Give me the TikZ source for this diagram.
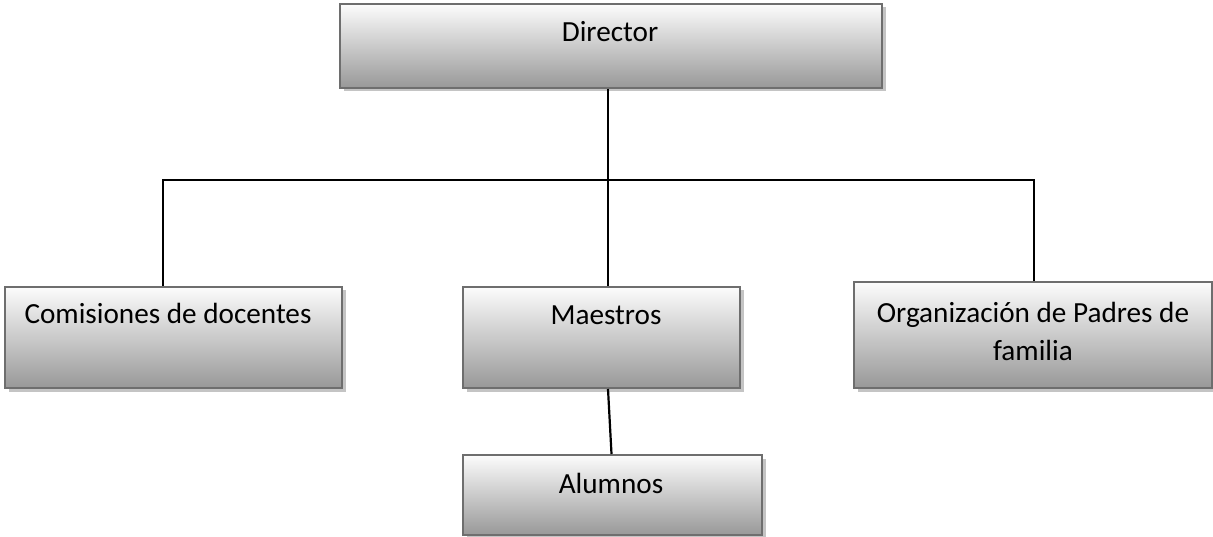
\documentclass[tikz,border=0pt]{standalone}
\usepackage{fontspec}
\setmainfont{Carlito}
\usetikzlibrary{shadows,calc}
\definecolor{boxline}{HTML}{6E6E6E}
\definecolor{boxtop}{HTML}{FCFCFC}
\definecolor{boxbot}{HTML}{989898}
\definecolor{shadowc}{HTML}{C4C4C4}
\tikzset{
  orgbox/.style={draw=boxline, line width=2pt, top color=boxtop, bottom color=boxbot,
    rectangle, inner sep=0pt, anchor=north west,
    drop shadow={shadow xshift=3.5pt, shadow yshift=-3.5pt, fill=shadowc, opacity=1}},
  lbl/.style={font=\fontsize{29.2}{37}\selectfont, anchor=base, inner sep=0pt, align=center},
  conn/.style={draw=black, line width=2.2pt}
}
\begin{document}
\begin{tikzpicture}[x=1pt,y=-1pt]
\useasboundingbox (0,0) rectangle (1213,537);
% boxes
\node[orgbox, minimum width=542pt, minimum height=84pt] (dir) at (339,3) {};
\node[orgbox, minimum width=337pt, minimum height=101pt] (com) at (4,286) {};
\node[orgbox, minimum width=277pt, minimum height=101pt] (mae) at (462,286) {};
\node[orgbox, minimum width=358pt, minimum height=106pt] (org) at (853,281) {};
\node[orgbox, minimum width=299pt, minimum height=80pt] (alu) at (462,454) {};
% labels
\node[lbl] (tdir) at (610,42) {Director};
\node[lbl] (tcom) at (168,324) {Comisiones de docentes};
\node[lbl] (tmae) at (606,325) {Maestros};
\node[lbl] (talu) at (611,493) {Alumnos};
\node[lbl] (torg1) at (1033,323) {Organización de Padres de};
\node[lbl] (torg2) at (1033,360) {familia};
% connectors
\coordinate (j) at (608,180);
\coordinate (jl) at (163,180);
\coordinate (jr) at (1034,180);
\draw[conn] (j |- dir.south) -- (j);
\draw[conn, line cap=rect] (jl) -- (jr);
\draw[conn] (jl) -- (jl |- com.north);
\draw[conn] (jr) -- (jr |- org.north);
\draw[conn] (j) -- (j |- mae.north);
\draw[conn] (j |- mae.south) -- ($(alu.north)+(-1,0)$);
\end{tikzpicture}
\end{document}
